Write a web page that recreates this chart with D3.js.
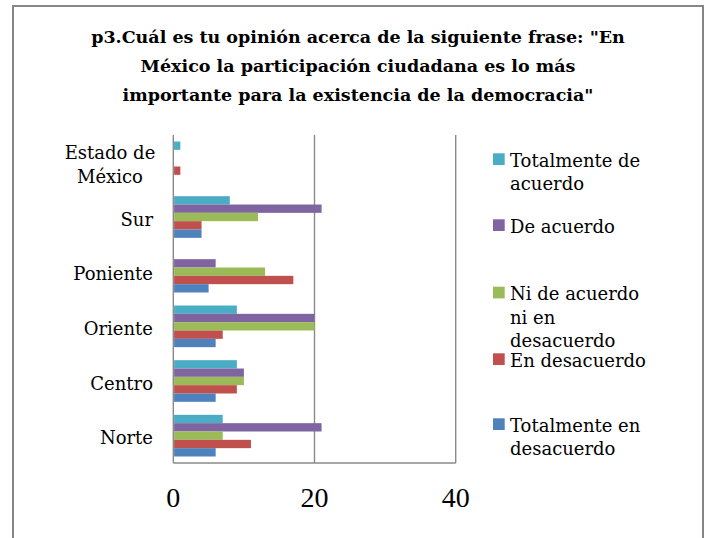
<!DOCTYPE html>
<html>
<head>
<meta charset="utf-8">
<script src="https://cdn.jsdelivr.net/npm/d3@7"></script>
<style>
  html, body { margin: 0; padding: 0; background: #fff; }
</style>
</head>
<body>
<div id="chart"></div>
<script>
// categories, bottom to top as in the workbook
const categories = ["Norte", "Centro", "Oriente", "Poniente", "Sur", "Estado de México"];
const categoryLines = {
  "Estado de México": ["Estado de", "México"]
};

// series (values per category, same order as categories)
const seriesNames = ["Totalmente de acuerdo", "De acuerdo", "Ni de acuerdo ni en desacuerdo", "En desacuerdo", "Totalmente en desacuerdo"];
const totalmenteDeAcuerdo = [7, 9, 9, 0, 8, 1];
const deAcuerdo = [21, 10, 20, 6, 21, 0];
const niDeAcuerdo = [7, 10, 20, 13, 12, 0];
const enDesacuerdo = [11, 9, 7, 17, 4, 1];
const totalmenteEnDesacuerdo = [6, 6, 6, 5, 4, 0];

const xTicks = [0, 20, 40];

const legendLines = [
  ["Totalmente de", "acuerdo"],
  ["De acuerdo"],
  ["Ni de acuerdo", "ni en", "desacuerdo"],
  ["En desacuerdo"],
  ["Totalmente en", "desacuerdo"]
];

const titleLines = [
  "p3.Cuál es tu opinión acerca de la siguiente frase: \"En",
  "México la participación ciudadana es lo más",
  "importante para la existencia de la democracia\""
];

const colors = ["#4BACC6", "#8064A2", "#9BBB59", "#C0504D", "#4F81BD"];

const width = 709, height = 538;
const plot = {left: 173.3, right: 455.7, top: 135, bottom: 463};
const serif = "'DejaVu Serif', serif";

const values = [totalmenteDeAcuerdo, deAcuerdo, niDeAcuerdo, enDesacuerdo, totalmenteEnDesacuerdo];
const data = categories.map((c, i) => ({
  category: c,
  values: seriesNames.map((s, j) => ({series: s, value: values[j][i], color: colors[j]}))
}));

const svg = d3.select("#chart")
  .append("svg")
  .attr("width", width)
  .attr("height", height);

svg.append("rect")
  .attr("width", width)
  .attr("height", height)
  .attr("fill", "white");

// chart border
svg.append("rect")
  .attr("x", 13)
  .attr("y", 6)
  .attr("width", 690)
  .attr("height", 560)
  .attr("fill", "none")
  .attr("stroke", "#868686")
  .attr("stroke-width", 2);

// title
svg.append("text")
  .attr("text-anchor", "middle")
  .style("font-family", serif)
  .style("font-size", "17.5px")
  .style("font-weight", "bold")
  .attr("fill", "#000")
  .selectAll("tspan")
  .data(titleLines)
  .enter().append("tspan")
    .attr("x", 358)
    .attr("y", (d, i) => 43 + i * 29)
    .text(d => d);

const x = d3.scaleLinear()
  .domain([0, 40])
  .range([plot.left, plot.right]);

// top to bottom on screen
const y = d3.scaleBand()
  .domain(categories.slice().reverse())
  .range([plot.top, plot.bottom])
  .paddingInner(0.238)
  .paddingOuter(0.119);

const ySeries = d3.scaleBand()
  .domain(seriesNames)
  .range([0, y.bandwidth()]);

// vertical grid lines (0 acts as the axis)
svg.append("g")
  .selectAll("line")
  .data(xTicks)
  .enter().append("line")
    .attr("x1", d => x(d))
    .attr("x2", d => x(d))
    .attr("y1", plot.top)
    .attr("y2", plot.bottom)
    .attr("stroke", "#8a8a8a")
    .attr("stroke-width", 1.4);

// bars
const groups = svg.append("g")
  .selectAll("g")
  .data(data)
  .enter().append("g")
    .attr("transform", d => `translate(0,${y(d.category)})`);

groups.selectAll("rect")
  .data(d => d.values.filter(v => v.value > 0))
  .enter().append("rect")
    .attr("x", x(0) + 0.8)
    .attr("y", d => ySeries(d.series))
    .attr("width", d => x(d.value) - x(0) - 0.8)
    .attr("height", ySeries.bandwidth())
    .attr("fill", d => d.color);

// x axis baseline
svg.append("line")
  .attr("x1", plot.left)
  .attr("x2", plot.right)
  .attr("y1", plot.bottom)
  .attr("y2", plot.bottom)
  .attr("stroke", "#8a8a8a")
  .attr("stroke-width", 1.4);

// x tick labels
svg.append("g")
  .selectAll("text")
  .data(xTicks)
  .enter().append("text")
    .attr("x", d => x(d))
    .attr("y", 507)
    .attr("text-anchor", "middle")
    .style("font-family", "'Liberation Serif', serif")
    .style("font-size", "28px")
    .attr("fill", "#000")
    .text(d => d);

// category labels
const catLabels = svg.append("g")
  .selectAll("text")
  .data(categories)
  .enter().append("text")
    .attr("text-anchor", "end")
    .style("font-family", serif)
    .style("font-size", "18px")
    .attr("fill", "#000");

catLabels.each(function(c) {
  const lines = categoryLines[c] || [c];
  const cy = y(c) + y.bandwidth() / 2;
  const lh = 24;
  const first = cy - (lines.length - 1) * lh / 2 + 8.5;
  const t = d3.select(this);
  if (lines.length === 1) {
    t.append("tspan").attr("x", 153).attr("y", first).text(lines[0]);
  } else {
    // multi-line labels are centred on their widest line
    t.attr("text-anchor", "middle");
    lines.forEach((l, i) => {
      t.append("tspan").attr("x", 110).attr("y", first + i * lh).text(l);
    });
  }
});

// legend
const legendTop = [153.3, 219.3, 286.7, 353.3, 418.3];
const legend = svg.append("g")
  .selectAll("g")
  .data(seriesNames)
  .enter().append("g")
    .attr("transform", (d, i) => `translate(493,${legendTop[i]})`);

legend.append("rect")
  .attr("width", 11.7)
  .attr("height", 11.7)
  .attr("fill", (d, i) => colors[i]);

legend.append("text")
  .style("font-family", serif)
  .style("font-size", "18px")
  .attr("fill", "#000")
  .selectAll("tspan")
  .data((d, i) => legendLines[i])
  .enter().append("tspan")
    .attr("x", 17)
    .attr("y", (d, i) => 13.4 + i * 23.5)
    .text(d => d);
</script>
</body>
</html>
